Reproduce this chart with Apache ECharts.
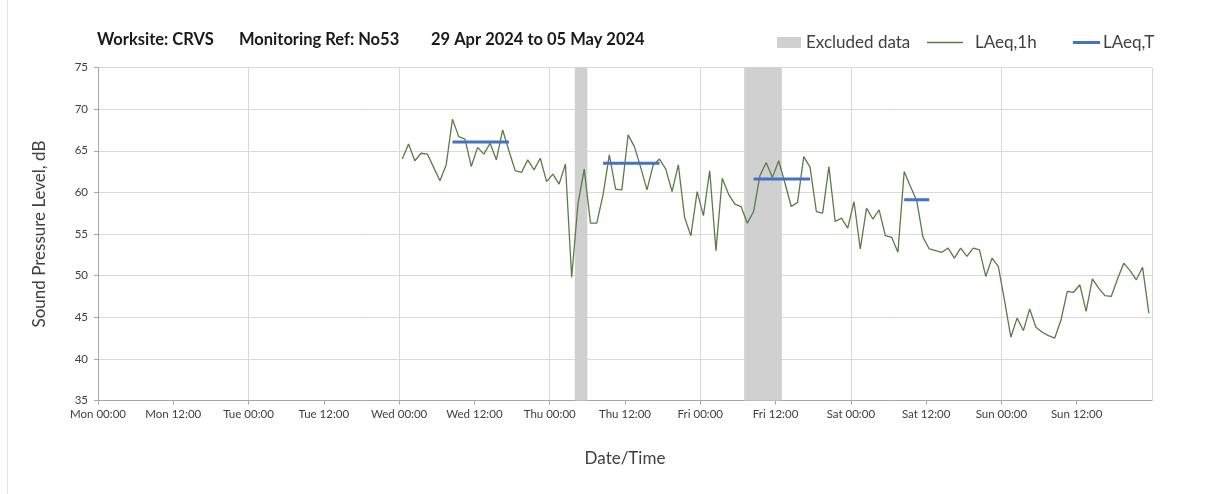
<!DOCTYPE html>
<html>
<head>
<meta charset="utf-8">
<style>
html,body{margin:0;padding:0;background:#fff;}
#chart{width:1205px;height:494px;}
</style>
<script src="https://cdn.jsdelivr.net/npm/echarts@6/dist/echarts.min.js"></script>
</head>
<body>
<div id="chart"></div>
<script>
// ---- data ----
const dayNames = ['Mon', 'Tue', 'Wed', 'Thu', 'Fri', 'Sat', 'Sun'];
// hourly LAeq,1h values, first value at Wed 00:30 (hour 48.5 from Mon 00:00), one per hour
const firstHour = 48.5;
const laeq1h = [
  64.0, 65.8, 63.8, 64.7, 64.6, 63.0, 61.4, 63.3, 68.8, 66.7, 66.4, 63.1,
  65.4, 64.6, 65.9, 63.9, 67.5, 65.0, 62.6, 62.4, 63.9, 62.7, 64.1, 61.3,
  62.2, 61.0, 63.4, 49.8, 58.6, 62.8, 56.3, 56.3, 59.7, 64.5, 60.4, 60.3,
  66.9, 65.5, 63.0, 60.3, 63.3, 64.0, 62.8, 60.1, 63.3, 57.0, 54.8, 60.1,
  57.2, 62.6, 53.0, 61.7, 59.8, 58.6, 58.3, 56.3, 57.7, 62.0, 63.6, 61.8,
  63.8, 61.1, 58.3, 58.8, 64.3, 63.0, 57.7, 57.5, 63.1, 56.5, 56.9, 55.7,
  58.9, 53.2, 58.1, 56.8, 57.9, 54.8, 54.6, 52.8, 62.5, 60.7, 59.0, 54.6,
  53.2, 53.0, 52.8, 53.3, 52.1, 53.3, 52.3, 53.3, 53.1, 49.9, 52.1, 51.1,
  47.0, 42.6, 44.9, 43.4, 46.0, 43.8, 43.2, 42.8, 42.5, 44.7, 48.1, 48.0,
  48.9, 45.7, 49.6, 48.5, 47.6, 47.5, 49.6, 51.5, 50.6, 49.5, 51.0, 45.5
];
// LAeq,T periods (hours from Mon 00:00)
const laeqTStart = [56.5, 80.5, 104.5, 128.5];
const laeqTEnd = [65.5, 89.5, 113.5, 132.5];
const laeqTValues = [66.05, 63.5, 61.6, 59.1];
// excluded data periods (hours from Mon 00:00)
const excludedStart = [76, 103];
const excludedEnd = [78, 109];
// title parts
const titleParts = ['Worksite: CRVS', 'Monitoring Ref: No53', '29 Apr 2024 to 05 May 2024'];
// y axis
const yMin = 35, yMax = 75, yStep = 5;
const xMax = 168, xLabelStep = 12, xGridStep = 24;

// ---- build ----
const lineData = laeq1h.map((v, i) => [firstHour + i, v]);
const tData = [];
laeqTValues.forEach((v, i) => {
  if (i > 0) tData.push([laeqTStart[i] - 0.5, '-']);
  tData.push([laeqTStart[i], v]);
  tData.push([laeqTEnd[i], v]);
});
const excludedAreas = excludedStart.map((s, i) => [{xAxis: s}, {xAxis: excludedEnd[i]}]);

const FONT = 'Lato, "Open Sans", sans-serif';
const titleLefts = [97, 239, 431];
const legendText = {fontFamily: FONT, fontSize: 17, color: '#404040'};
const chart = echarts.init(document.getElementById('chart'), null, {renderer: 'canvas'});
chart.setOption({
  animation: false,
  backgroundColor: '#ffffff',
  title: titleParts.map((t, i) => ({
    text: t, left: titleLefts[i], top: 31, padding: 0,
    textStyle: {fontFamily: FONT, fontSize: 16.5, fontWeight: 'bold', color: '#1a1a1a'}
  })),
  legend: [{
    left: 777, top: 34, padding: 0, itemWidth: 24, itemHeight: 11,
    textStyle: Object.assign({padding: [0, 0, 0, 0]}, legendText),
    data: [{name: 'Excluded data', icon: 'rect', itemStyle: {color: '#d0d0d0'}}]
  }, {
    left: 927, top: 34, padding: 0, itemWidth: 36, itemHeight: 11,
    textStyle: Object.assign({padding: [0, 0, 0, 7]}, legendText),
    data: [{name: 'LAeq,1h', icon: 'path://M0,0 H100 V4 H0 Z', itemStyle: {color: '#5b7b45'}}]
  }, {
    left: 1073, top: 34, padding: 0, itemWidth: 27, itemHeight: 11,
    textStyle: Object.assign({padding: [0, 0, 0, -2]}, legendText),
    data: [{name: 'LAeq,T', icon: 'path://M0,0 H100 V11 H0 Z', itemStyle: {color: '#4472c4'}}]
  }],
  grid: {left: 98, right: 53, top: 67.5, bottom: 93.5, containLabel: false},
  xAxis: [{
    type: 'value', min: 0, max: xMax, interval: xLabelStep,
    name: 'Date/Time', nameLocation: 'middle', nameGap: 50,
    nameTextStyle: {fontFamily: FONT, fontSize: 17, color: '#404040'},
    axisLine: {show: true, lineStyle: {color: '#a6a6a6', width: 1}},
    axisTick: {show: true, length: 4, lineStyle: {color: '#a6a6a6'}},
    axisLabel: {
      fontFamily: FONT, fontSize: 11.5, color: '#404040', margin: 8,
      showMaxLabel: false,
      formatter: function (h) {
        if (h >= xMax) return '';
        const d = Math.floor(h / 24);
        return dayNames[d] + (h % 24 === 0 ? ' 00:00' : ' 12:00');
      }
    },
    splitLine: {show: false}
  }, {
    type: 'value', min: 0, max: xMax, interval: xGridStep, position: 'top',
    axisLine: {show: false}, axisTick: {show: false}, axisLabel: {show: false},
    splitLine: {show: true, lineStyle: {color: '#d9d9d9', width: 1}}
  }],
  yAxis: {
    type: 'value', min: yMin, max: yMax, interval: yStep,
    name: 'Sound Pressure Level, dB', nameLocation: 'middle', nameGap: 50,
    nameTextStyle: {fontFamily: FONT, fontSize: 17, color: '#404040'},
    axisLine: {show: true, lineStyle: {color: '#a6a6a6', width: 1}},
    axisTick: {show: true, length: 4, lineStyle: {color: '#a6a6a6'}},
    axisLabel: {fontFamily: FONT, fontSize: 11.5, color: '#404040', margin: 10},
    splitLine: {show: true, lineStyle: {color: '#d9d9d9', width: 1}}
  },
  series: [{
    name: 'Excluded data', type: 'line', data: [], z: 1,
    markArea: {silent: true, itemStyle: {color: '#d0d0d0', opacity: 1}, data: excludedAreas}
  }, {
    name: 'LAeq,1h', type: 'line', data: lineData, symbol: 'none', z: 3,
    lineStyle: {color: '#5b7b45', width: 1.3}, itemStyle: {color: '#5b7b45'}
  }, {
    name: 'LAeq,T', type: 'line', data: tData, symbol: 'none', z: 4,
    lineStyle: {color: '#4472c4', width: 3}, itemStyle: {color: '#4472c4'}
  }],
  graphic: [{
    type: 'line', shape: {x1: 7.5, y1: 0, x2: 7.5, y2: 494},
    style: {stroke: '#e6e6e6', lineWidth: 1}, silent: true
  }]
});
</script>
</body>
</html>
